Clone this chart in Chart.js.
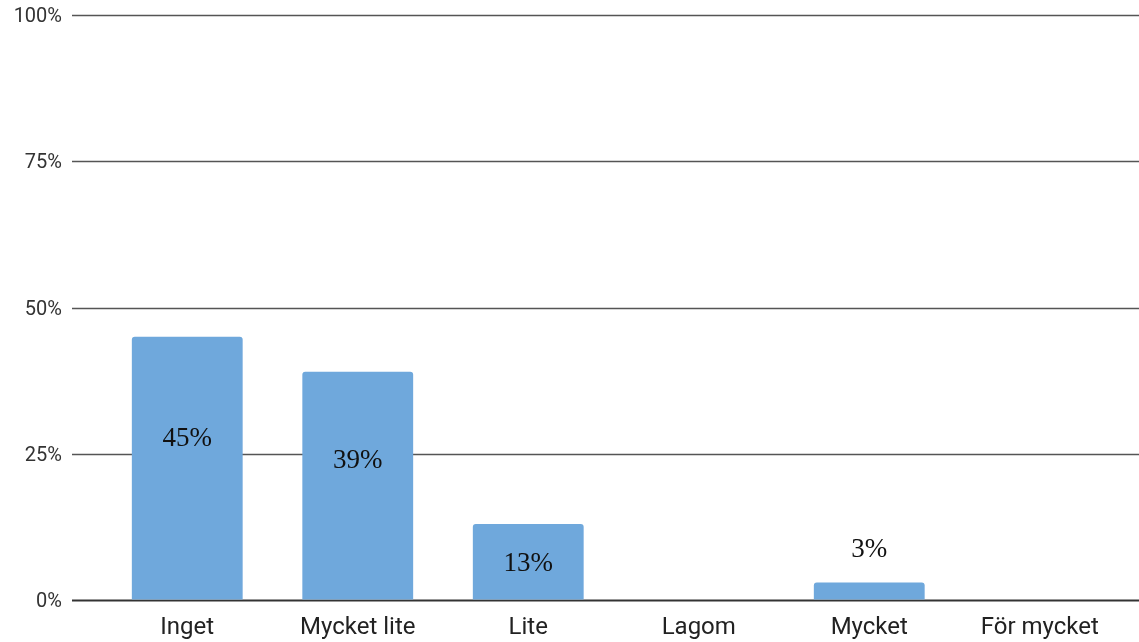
<!DOCTYPE html>
<html>
<head>
<meta charset="utf-8">
<script src="https://cdn.jsdelivr.net/npm/chart.js@4.4.1/dist/chart.umd.min.js"></script>
<style>
  html, body { margin: 0; padding: 0; background: #fff; }
  #wrap { width: 1139px; height: 642px; }
</style>
</head>
<body>
<div id="wrap"><canvas id="chart" width="1139" height="642"></canvas></div>
<script>
const categories = ['Inget', 'Mycket lite', 'Lite', 'Lagom', 'Mycket', 'För mycket']
const values = [45, 39, 13, 0, 3, 0]
const valueLabels = ['45%', '39%', '13%', '', '3%', '']
const yTicks = [0, 25, 50, 75, 100]

// horizontal lines run past the plot area on both sides, like the original
const wideGrid = {
    id: 'wideGrid',
    beforeDatasetsDraw(chart) {
        const ctx = chart.ctx
        const y = chart.scales.y
        const left = chart.chartArea.left - 30
        const right = chart.width
        ctx.save()
        yTicks.forEach(t => {
            const py = Math.round(y.getPixelForValue(t)) + 0.5
            ctx.beginPath()
            ctx.strokeStyle = t === 0 ? '#333' : '#555'
            ctx.lineWidth = t === 0 ? 2 : 1.3
            ctx.moveTo(left, py)
            ctx.lineTo(right, py)
            ctx.stroke()
        })
        ctx.restore()
    }
}

const barLabels = {
    id: 'barLabels',
    afterDatasetsDraw(chart) {
        const ctx = chart.ctx
        const meta = chart.getDatasetMeta(0)
        ctx.save()
        ctx.font = '27px "Liberation Serif", serif'
        ctx.fillStyle = '#111'
        ctx.textAlign = 'center'
        ctx.textBaseline = 'middle'
        meta.data.forEach((bar, i) => {
            if (!valueLabels[i]) return
            const h = bar.base - bar.y
            let py
            if (h > 120) py = bar.y + h * 0.385
            else if (h > 30) py = bar.y + h / 2 + 1
            else py = bar.y - 34
            ctx.fillText(valueLabels[i], bar.x, py + 1)
        })
        ctx.restore()
    }
}

new Chart(document.getElementById('chart'), {
    type: 'bar',
    data: {
        labels: categories,
        datasets: [{
            data: values,
            backgroundColor: '#6fa8dc',
            borderRadius: { topLeft: 3, topRight: 3 },
            borderSkipped: 'start',
            categoryPercentage: 1,
            barPercentage: 0.65
        }]
    },
    options: {
        responsive: false,
        animation: false,
        layout: { padding: { top: 15, right: 14, bottom: 0, left: 0 } },
        plugins: { legend: { display: false }, tooltip: { enabled: false } },
        scales: {
            x: {
                afterFit(scale) { scale.height = 42 },
                grid: { display: false, drawTicks: false },
                border: { display: false },
                ticks: {
                    padding: 14,
                    maxRotation: 0,
                    color: '#222',
                    font: { family: 'Roboto', size: 24 }
                }
            },
            y: {
                min: 0,
                max: 100,
                afterFit(scale) { scale.width = 102 },
                afterBuildTicks(scale) { scale.ticks = yTicks.map(v => ({ value: v })) },
                // invisible tick marks give the gap between labels and lines
                grid: { color: 'transparent', drawTicks: true, tickLength: 40 },
                border: { display: false },
                ticks: {
                    padding: 0,
                    labelOffset: 2,
                    color: '#333',
                    font: { family: 'Roboto', size: 20 },
                    callback: v => v + '%'
                }
            }
        }
    },
    plugins: [wideGrid, barLabels]
})
</script>
</body>
</html>
